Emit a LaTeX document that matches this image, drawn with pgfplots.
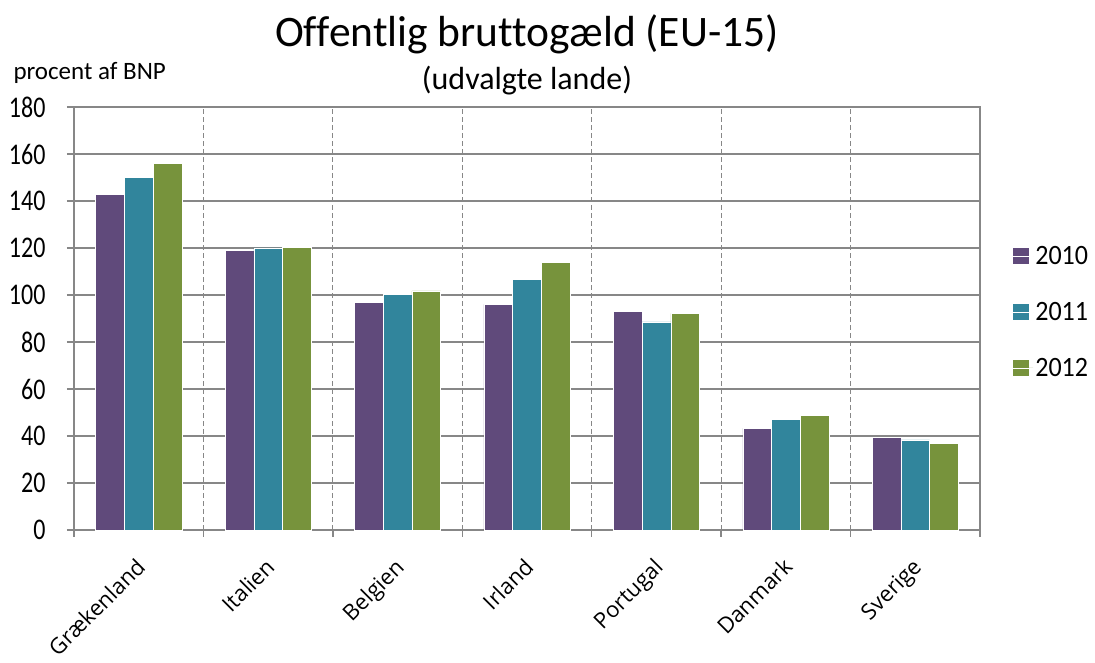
\documentclass[border=0pt]{standalone}
\usepackage{fontspec}
\setmainfont{Carlito}[Ligatures=NoCommon]
\newfontfamily\tickfont{Carlito}[FakeStretch=0.8]
\newfontfamily\legfont{Carlito}[FakeStretch=0.93]
\newfontfamily\labfont{Open Sans}
\usepackage{pgfplots}
\pgfplotsset{compat=1.18}
\definecolor{c10}{HTML}{604A7B}
\definecolor{c11}{HTML}{31859C}
\definecolor{c12}{HTML}{77933C}
\definecolor{gridgray}{HTML}{878787}
\begin{document}
\begin{tikzpicture}[x=1pt,y=1pt]
\path[use as bounding box] (0,0) rectangle (1095,663);
\begin{axis}[
 at={(74pt,133pt)}, anchor=south west,
 scale only axis, width=906pt, height=423pt,
 xmin=-0.5, xmax=6.5, ymin=0, ymax=180,
 ybar=0pt, bar width=28.7pt,
 xtick={0,...,6},
 xticklabels={Grækenland,Italien,Belgien,Irland,Portugal,Danmark,Sverige},
 major x tick style={draw=none},
 minor xtick={-0.5,0.5,...,6.5},
 xminorgrids, minor x grid style={gridgray, dash pattern=on 5pt off 3pt, line width=1.2pt},
 ytick={0,20,...,180}, ymajorgrids, major y grid style={gridgray, line width=1.5pt},
 axis line style={gridgray, line width=1.5pt},
 tick style={gridgray, line width=1.5pt},
 tick align=outside, ytick pos=left, xtick pos=bottom,
 major tick length=7pt, minor tick length=7pt,
 /pgf/number format/assume math mode=true,
 yticklabel style={font=\tickfont\fontsize{30}{30}\selectfont, xshift=-18pt},
 xticklabel style={xshift=-4pt, yshift=-15pt, rotate=45, anchor=north east,
   font=\labfont\fontsize{22}{22}\selectfont},
 legend style={at={(1.036,0.515)}, anchor=west, draw=none, fill=none,
   font=\legfont\fontsize{28}{28}\selectfont, row sep=32pt, inner sep=0pt},
 legend cell align=left,
 clip=false,
]
\addplot[fill=c10, draw=white, line width=0.5pt,
  legend image code/.code={\fill[c10] (0pt,-7pt) rectangle (15pt,8pt); \path (0pt,0pt) -- (20pt,0pt);}]
  coordinates {(0,142.7) (1,118.9) (2,96.7) (3,96.0) (4,92.9) (5,43.2) (6,39.4)};
\addplot[fill=c11, draw=white, line width=0.5pt,
  legend image code/.code={\fill[c11] (0pt,-7pt) rectangle (15pt,8pt); \path (0pt,0pt) -- (20pt,0pt);}]
  coordinates {(0,150.0) (1,120.1) (2,100.4) (3,106.8) (4,88.6) (5,47.1) (6,38.4)};
\addplot[fill=c12, draw=white, line width=0.5pt,
  legend image code/.code={\fill[c12] (0pt,-7pt) rectangle (15pt,8pt); \path (0pt,0pt) -- (20pt,0pt);}]
  coordinates {(0,155.9) (1,120.2) (2,101.8) (3,114.0) (4,92.2) (5,48.8) (6,37.0)};
\legend{2010,2011,2012}
\end{axis}
\node[font=\fontsize{43.5}{43.5}\selectfont, anchor=base] at (527,616) {Offentlig bruttogæld (EU-15)};
\node[font=\fontsize{32}{32}\selectfont, anchor=base] at (527,573) {(udvalgte lande)};
\node[font=\fontsize{25}{25}\selectfont, anchor=base west] at (10,583) {procent af BNP};
\end{tikzpicture}
\end{document}
